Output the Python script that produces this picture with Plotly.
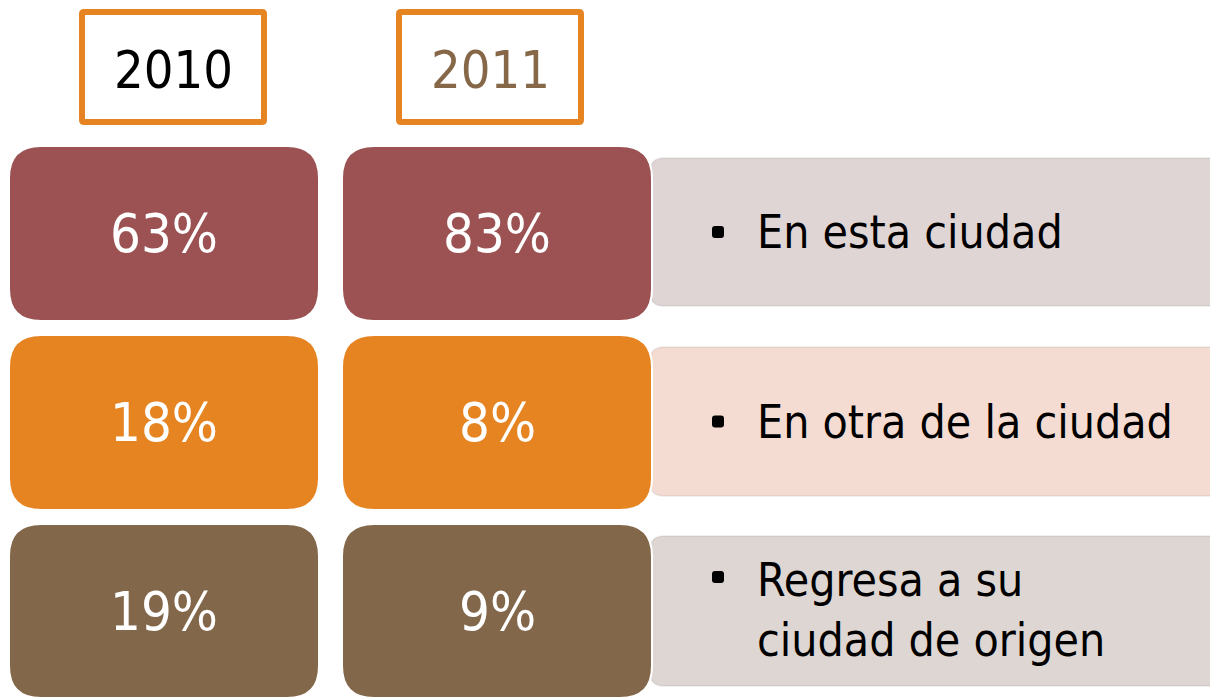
import plotly.graph_objects as go

# ---- data ----
years = ["2010", "2011"]
categories = ["En esta ciudad", "En otra de la ciudad", "Regresa a su<br>ciudad de origen"]
values_2010 = ["63%", "18%", "19%"]
values_2011 = ["83%", "8%", "9%"]

# ---- style ----
W, H = 1210, 698
tile_colors = ["#9c5253", "#e68422", "#83674a"]
panel_colors = ["#e0d5d5", "#f5dcd2", "#ddd6d3"]
year_colors = ["#000000", "#866848"]
FONT = "DejaVu Sans Condensed, Liberation Sans Narrow, Roboto, sans-serif"

def rrect(x0, y0, x1, y1, r):
    return (f"M {x0+r},{y0} L {x1-r},{y0} Q {x1},{y0} {x1},{y0+r} "
            f"L {x1},{y1-r} Q {x1},{y1} {x1-r},{y1} L {x0+r},{y1} "
            f"Q {x0},{y1} {x0},{y1-r} L {x0},{y0+r} Q {x0},{y0} {x0+r},{y0} Z")

fig = go.Figure()
shapes = []
annotations = []

# header boxes
hdr_x = [(79, 267), (396, 584)]
for i, y in enumerate(years):
    x0, x1 = hdr_x[i]
    shapes.append(dict(type="path", path=rrect(x0+3, 12, x1-3, 122, 2),
                       line=dict(color="#e68422", width=6), fillcolor="white", layer="above"))
    annotations.append(dict(x=(x0+x1)/2, y=70, text=y, showarrow=False,
                            font=dict(family=FONT, size=52, color=year_colors[i]),
                            xanchor="center", yanchor="middle"))

row_y = [(146, 321), (335, 510), (524, 698)]
panel_y = [(158, 306), (347, 496), (536, 686)]
col_x = [(9, 319), (342, 652)]

for r in range(3):
    py0, py1 = panel_y[r]
    shapes.append(dict(type="path", path=rrect(650, py0, 1240, py1, 14),
                       line=dict(color="rgba(0,0,0,0.06)", width=2),
                       fillcolor=panel_colors[r], layer="above"))
for r in range(3):
    y0, y1 = row_y[r]
    for c, vals in enumerate([values_2010, values_2011]):
        x0, x1 = col_x[c]
        shapes.append(dict(type="path", path=rrect(x0, y0, x1, y1, 32),
                           line=dict(color="white", width=2),
                           fillcolor=tile_colors[r], layer="above"))
        annotations.append(dict(x=(x0+x1)/2, y=(y0+y1)/2, text=vals[r], showarrow=False,
                                font=dict(family=FONT, size=54, color="white"),
                                xanchor="center", yanchor="middle"))
    py0, py1 = panel_y[r]
    if r < 2:
        cy = (py0 + py1) / 2
        ty = cy
    else:
        cy = 577
        ty = 610
    shapes.append(dict(type="path", path=rrect(712, cy-6, 724, cy+6, 3),
                       line=dict(width=0), fillcolor="black", layer="above"))
    annotations.append(dict(x=755, y=ty, text=categories[r], showarrow=False,
                            font=dict(family=FONT, size=46, color="black"),
                            xanchor="left", yanchor="middle", align="left"))

fig.update_layout(
    width=W, height=H, margin=dict(l=0, r=0, t=0, b=0),
    paper_bgcolor="white", plot_bgcolor="white",
    xaxis=dict(range=[0, W], visible=False, fixedrange=True),
    yaxis=dict(range=[H, 0], visible=False, fixedrange=True),
    shapes=shapes, annotations=annotations, showlegend=False,
)
fig.write_html("out.html", config={"displayModeBar": False},
               post_script="document.body.style.margin='0px';document.body.style.overflow='hidden';")
